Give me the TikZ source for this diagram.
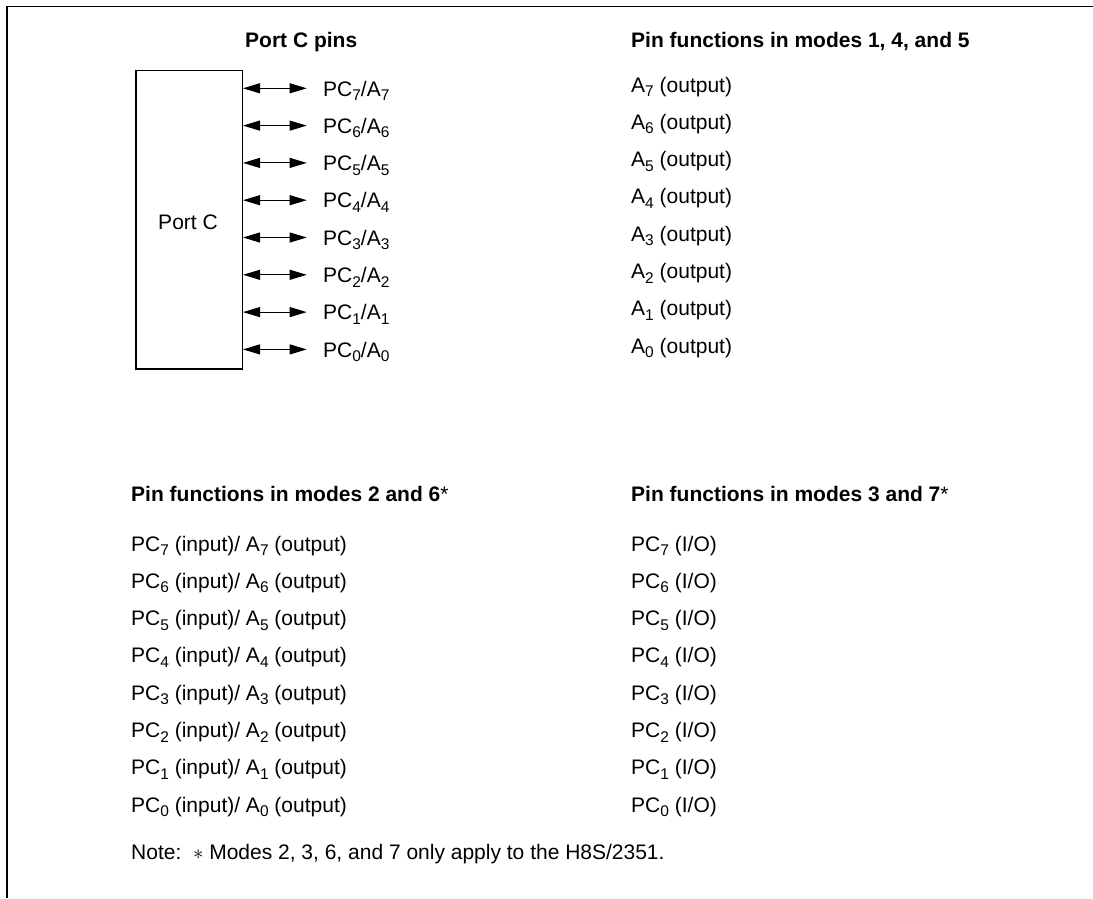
\documentclass[tikz,border=0pt]{standalone}
\usepackage{fontspec}
\setmainfont{Liberation Sans}
\usetikzlibrary{arrows.meta}
\newcommand\ssb[1]{\raisebox{-4.5pt}{\fontsize{15.5}{16}\selectfont #1}}
\begin{document}
\begin{tikzpicture}[x=1pt,y=-1pt,
  txt/.style={anchor=base west, inner sep=0pt, font=\fontsize{21}{25}\selectfont},
  hdr/.style={txt, font=\fontsize{21}{25}\selectfont\bfseries},
  pin/.style={{Triangle[length=17pt,width=10pt]}-{Triangle[length=17pt,width=10pt]}, line width=1pt},
  frame/.style={line width=1.5pt}]
\useasboundingbox (0,0) rectangle (1093,898);
\coordinate (fa) at (7,898);
\coordinate (fb) at (7,6.5);
\coordinate (fc) at (1093,6.5);
\draw[frame] (fa) -- (fb) -- (fc);
\node[draw, frame, minimum width=106.5pt, minimum height=298.5pt, anchor=north west, inner sep=0pt] (port) at (135,69.5) {};
\node[txt, anchor=center] (portlbl) at (188,222) {Port C};
\node[hdr] (h1) at (245,47.5) {Port C pins};
\node[hdr] (h2) at (631,47.5) {Pin functions in modes 1, 4, and 5};
\node[hdr] (h3) at (131,501) {Pin functions in modes 2 and 6{\mdseries *}};
\node[hdr] (h4) at (631,501) {Pin functions in modes 3 and 7{\mdseries *}};
\foreach \n [count=\i from 0] in {7,6,5,4,3,2,1,0} {
  \pgfmathsetmacro\ya{88.3+37.3*\i}
  \pgfmathsetmacro\yb{96+37.3*\i}
  \pgfmathsetmacro\yc{92+37.3*\i}
  \pgfmathsetmacro\yd{551+37.3*\i}
  \coordinate (e\n) at (306.7,\ya);
  \node[txt] (l\n) at (323,\yb) {PC\ssb{\n}/A\ssb{\n}};
  \draw[pin] (port.east |- e\n) -- (e\n);
  \node[txt] (m\n) at (631,\yc) {A\ssb{\n} (output)};
  \node[txt] (p\n) at (131,\yd) {PC\ssb{\n} (input)/ A\ssb{\n} (output)};
  \node[txt] (q\n) at (631,\yd) {PC\ssb{\n} (I/O)};
}
\node[txt] (note) at (131,859) {Note:\ \ $\ast$ Modes 2, 3, 6, and 7 only apply to the H8S/2351.};
\end{tikzpicture}
\end{document}
